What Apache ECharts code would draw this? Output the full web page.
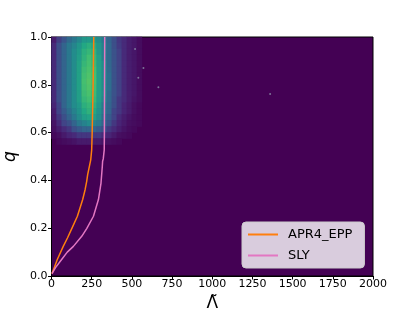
<!DOCTYPE html>
<html>
<head>
<meta charset="utf-8">
<script src="https://cdn.jsdelivr.net/npm/echarts@6/dist/echarts.min.js"></script>
<style>html,body{margin:0;padding:0;background:#fff}#c{width:415px;height:311px}</style>
</head>
<body>
<div id="c"></div>
<script>
// Tick labels
const xTicks = [0, 250, 500, 750, 1000, 1250, 1500, 1750, 2000];
const yTicks = [0.0, 0.2, 0.4, 0.6, 0.8, 1.0];

// Histogram binning: Lambda bins of 31.25 (64 bins over 0-2000), q bins of 0.025 (40 bins over 0-1)
const lamBinCount = 64;
const qBinCount = 40;
// Density (estimated), rows from top q bin (0.975-1.0) downward; columns from Lambda 0 upward
const densityRows = [
  [0.8,1.8,2.6,3.4,4.0,4.6,5.3,5.4,5.3,4.8,4.0,3.2,2.4,1.6,1.2,0.8,0.6,0.3],
  [1.2,2.4,3.2,4.0,4.5,5.2,6.0,6.3,6.1,5.2,4.3,3.3,2.4,1.7,1.2,0.8,0.6,0.3],
  [1.2,2.4,3.2,4.0,4.8,5.4,6.3,6.6,6.4,5.3,4.3,3.3,2.5,1.9,1.2,0.8,0.6,0.3],
  [1.2,2.4,3.2,4.0,4.8,5.5,6.4,6.9,6.6,5.6,4.3,3.3,2.5,1.9,1.2,0.8,0.6,0.3],
  [1.2,2.4,3.2,4.0,4.8,5.7,6.6,7.0,6.7,5.6,4.8,3.3,2.5,1.9,1.2,0.8,0.6,0.3],
  [1.2,2.4,3.2,4.0,4.8,5.7,6.8,7.1,6.9,5.7,4.8,3.4,2.5,1.9,1.2,0.8,0.6,0.3],
  [1.2,2.4,3.2,4.0,4.8,5.7,6.9,7.2,7.0,5.7,4.8,3.6,2.5,1.9,1.2,0.8,0.6,0.3],
  [1.2,2.4,3.2,4.0,4.8,5.7,7.0,7.3,7.0,5.7,4.8,3.6,2.5,1.9,1.2,0.8,0.6,0.3],
  [1.2,2.4,3.2,4.0,4.8,5.7,6.9,7.2,6.9,5.7,4.8,3.6,2.5,1.9,1.2,0.8,0.6,0.3],
  [1.2,2.4,3.2,4.0,4.8,5.6,6.8,7.1,6.8,5.6,4.8,3.3,2.5,1.9,1.2,0.8,0.6,0.3],
  [1.2,2.4,3.2,4.0,4.8,5.6,6.6,6.9,6.6,5.5,4.5,3.3,2.4,1.6,1.2,0.8,0.5,0.3],
  [1.0,2.0,3.2,4.0,4.8,5.3,6.3,6.6,6.3,5.2,4.0,3.2,2.4,1.6,1.0,0.7,0.4,0.2],
  [0.8,2.0,2.8,3.6,4.4,5.1,6.0,6.4,6.0,5.0,4.0,3.2,2.0,1.6,1.0,0.7,0.4,0.2],
  [0.7,1.6,2.4,3.2,4.0,4.8,5.5,5.8,5.5,4.8,3.6,2.8,2.0,1.2,0.8,0.5,0.3,0.2],
  [0.5,1.2,2.0,2.4,3.2,4.0,4.4,4.8,4.4,4.0,3.2,2.4,1.6,1.0,0.7,0.4,0.3,0.2],
  [0.4,0.8,1.2,1.6,2.4,2.8,3.2,3.2,3.2,2.8,2.4,1.6,1.2,0.8,0.5,0.3,0.2,0.0],
  [0.2,0.4,0.7,1.0,1.2,1.6,1.6,1.6,1.6,1.6,1.2,1.0,0.7,0.4,0.3,0.2,0.0,0.0],
  [0.0,0.2,0.3,0.4,0.5,0.7,0.7,0.7,0.7,0.7,0.5,0.4,0.3,0.2,0.0,0.0,0.0,0.0]
];
// Isolated samples far from the cluster [Lambda, q]
const outliers = [[572, 0.87], [665, 0.79], [1360, 0.762], [540, 0.83], [520, 0.95]];

// EOS curves [Lambda, q]
const apr4 = [[3,0.01],[20,0.04],[36,0.069],[73,0.124],[100,0.16],[126,0.198],[161,0.25],[194,0.32],[209,0.361],[219,0.396],[225,0.424],[236,0.432],[244,0.486],[250,0.528],[253,0.6],[256,0.7],[259,0.8],[261,0.9],[263,1.0]];
const sly = [[3,0.01],[25,0.035],[63,0.069],[98,0.1],[136,0.124],[188,0.166],[219,0.198],[261,0.25],[292,0.32],[308,0.389],[316,0.458],[318,0.48],[322,0.49],[328,0.528],[329,0.6],[330,0.8],[331,1.0]];

const viridis = ['#440154','#482475','#414487','#355f8d','#2a788e','#21918c','#22a884','#44bf70','#7ad151','#bddf26','#fde725'];

const heatData = [];
densityRows.forEach((row, i) => {
  const qi = qBinCount - 1 - i;
  row.forEach((v, j) => { if (v > 0) heatData.push([j, qi, v]); });
});
const catX = Array.from({length: lamBinCount}, (_, i) => i);
const catY = Array.from({length: qBinCount}, (_, i) => i);

const font = 'DejaVu Sans';
const chart = echarts.init(document.getElementById('c'), null, {renderer: 'canvas'});
chart.setOption({
  animation: false,
  grid: {left: 51.5, right: 42, top: 37, bottom: 35, outerBoundsMode: 'none', containLabel: false,
         show: true, backgroundColor: '#440154', borderColor: '#000', borderWidth: 1},
  xAxis: [
    {type: 'value', min: xTicks[0], max: xTicks[xTicks.length - 1], interval: 250,
     name: 'Λ̃', nameLocation: 'middle', nameGap: 13,
     nameTextStyle: {fontFamily: font, fontSize: 17, color: '#000'},
     axisLine: {show: true, lineStyle: {color: '#000', width: 1}},
     axisTick: {show: true, length: 3.5, lineStyle: {color: '#000'}},
     axisLabel: {fontFamily: font, fontSize: 11, color: '#000', margin: 3, formatter: v => String(v)},
     splitLine: {show: false}},
    {type: 'category', data: catX, show: false, boundaryGap: true}
  ],
  yAxis: [
    {type: 'value', min: yTicks[0], max: yTicks[yTicks.length - 1], interval: 0.2,
     name: 'q', nameLocation: 'middle', nameGap: 30,
     nameTextStyle: {fontFamily: font, fontSize: 17, fontStyle: 'italic', color: '#000'},
     axisLine: {show: true, lineStyle: {color: '#000', width: 1}},
     axisTick: {show: true, length: 3.5, lineStyle: {color: '#000'}},
     axisLabel: {fontFamily: font, fontSize: 11, color: '#000', margin: 4, formatter: v => v.toFixed(1)},
     splitLine: {show: false}},
    {type: 'category', data: catY, show: false, boundaryGap: true}
  ],
  visualMap: {show: false, seriesIndex: 0, min: 0, max: 10, inRange: {color: viridis}},
  legend: {
    orient: 'vertical', left: 242, top: 222,
    backgroundColor: 'rgba(255,255,255,0.8)', borderColor: '#cccccc', borderWidth: 1, borderRadius: 4,
    padding: [6, 12, 6, 6], itemGap: 8, itemWidth: 30, itemHeight: 2,
    textStyle: {fontFamily: font, fontSize: 13, color: '#000', padding: [0, 0, 0, 5]},
    data: [{name: 'APR4_EPP', icon: 'rect'}, {name: 'SLY', icon: 'rect'}]
  },
  series: [
    {type: 'heatmap', xAxisIndex: 1, yAxisIndex: 1, data: heatData, z: 1, itemStyle: {borderWidth: 0}},
    {type: 'scatter', xAxisIndex: 0, yAxisIndex: 0, data: outliers, symbolSize: 2, itemStyle: {color: '#8a8fa8'}, z: 2, silent: true},
    {type: 'line', name: 'APR4_EPP', data: apr4, showSymbol: false, smooth: false, lineStyle: {color: '#ff7f0e', width: 1.5}, itemStyle: {color: '#ff7f0e'}, z: 3},
    {type: 'line', name: 'SLY', data: sly, showSymbol: false, smooth: false, lineStyle: {color: '#e377c2', width: 1.5}, itemStyle: {color: '#e377c2'}, z: 4}
  ]
});
</script>
</body>
</html>
